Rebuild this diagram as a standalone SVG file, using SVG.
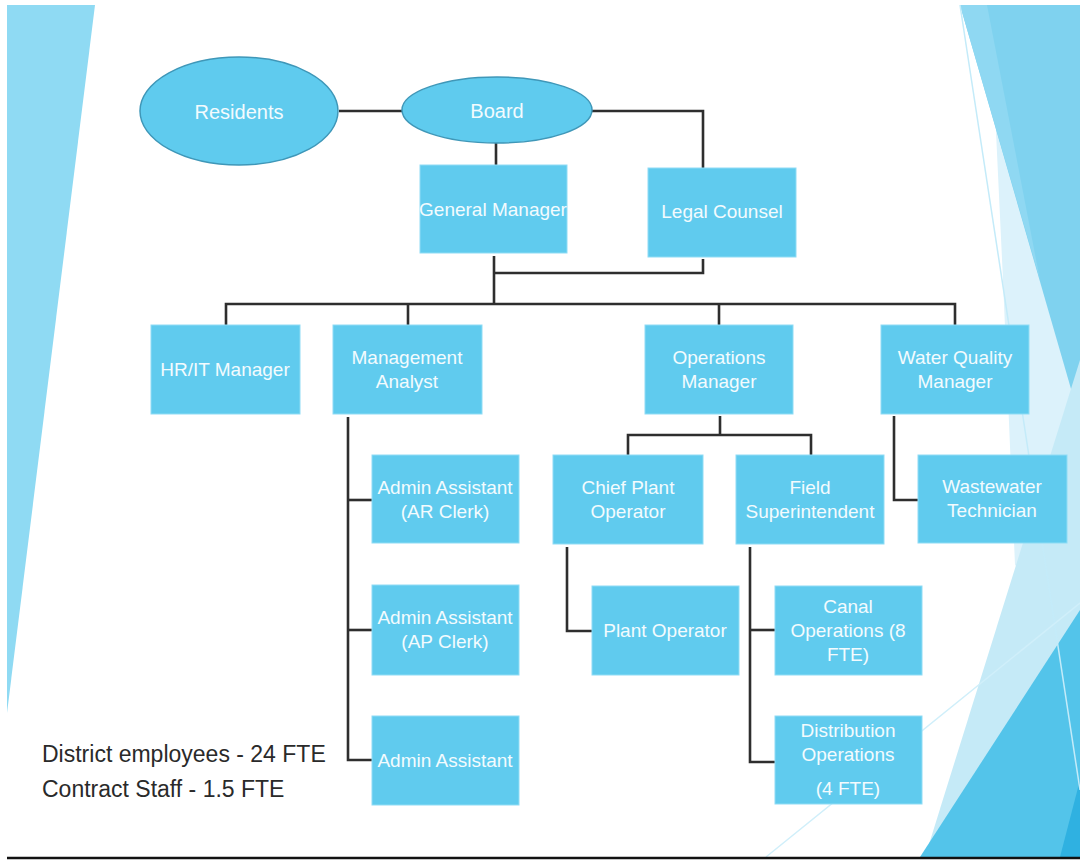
<svg xmlns="http://www.w3.org/2000/svg" width="1080" height="860" viewBox="0 0 1080 860">
<style>
.box{fill:#60cbee;stroke:#8fdcf5;stroke-width:1}
.ell{fill:#5fcbee;stroke:#3f97b8;stroke-width:1.5}
.t{font-family:"Liberation Sans",Arial,sans-serif;font-size:19px;fill:#f3fbfe;text-anchor:middle}
.te{font-size:20px}
.c{fill:none;stroke:#2e2e2e;stroke-width:2.6;stroke-linejoin:miter}
.foot{font-family:"Liberation Sans",Arial,sans-serif;font-size:23px;fill:#2a2a2a}
</style>
<rect width="1080" height="860" fill="#ffffff"/>
<g id="background">
<polygon points="7,5 95,5 7,713" fill="#8fdaf3"/>
<polygon points="990,5 1080,5 1080,620 1015,565 1003,280" fill="#dcf2fb"/>
<polygon points="960,5 1080,5 1080,420" fill="#7fd2ef"/>
<polygon points="960,5 987,5 1040,280" fill="#8fd8f2"/>
<polygon points="1080,360 1080,857 925,857" fill="#c5eaf7"/>
<polygon points="1080,610 1080,857 920,857" fill="#53c4ea"/>
<polygon points="1080,780 1080,857 1060,857" fill="#2fb1e1"/>
<line x1="960" y1="5" x2="1080" y2="790" stroke="#c4ebf9" stroke-width="1.5"/>
<line x1="766" y1="857" x2="1080" y2="603" stroke="#d0effa" stroke-width="1.5"/>
<line x1="7" y1="858" x2="1080" y2="858" stroke="#111" stroke-width="2.5"/>
</g>
<g id="connectors">
<path class="c" d="M339,111 H402"/>
<path class="c" d="M592,111 H703 V168"/>
<path class="c" d="M496,143 V165"/>
<path class="c" d="M494,256 V304"/>
<path class="c" d="M703,259 V273 H494"/>
<path class="c" d="M226,325 V304 H955 V325"/>
<path class="c" d="M408,304 V325"/>
<path class="c" d="M719,304 V325"/>
<path class="c" d="M720,416 V435"/>
<path class="c" d="M628,455 V435 H811 V455"/>
<path class="c" d="M894,416 V500 H918"/>
<path class="c" d="M348,417 V760 H372"/>
<path class="c" d="M348,500 H372"/>
<path class="c" d="M348,630 H372"/>
<path class="c" d="M567,547 V631 H592"/>
<path class="c" d="M750,547 V762 H775"/>
<path class="c" d="M750,630 H775"/>
</g>
<g id="residents"><ellipse class="ell" cx="239" cy="111" rx="99" ry="54"/><text class="t te" x="239" y="119">Residents</text></g>
<g id="board"><ellipse class="ell" cx="497" cy="110" rx="95" ry="33"/><text class="t te" x="497" y="118">Board</text></g>
<g id="general-manager"><rect class="box" x="420" y="165" width="147" height="88"/><text class="t" x="493" y="216">General Manager</text></g>
<g id="legal-counsel"><rect class="box" x="648" y="168" width="148" height="89"/><text class="t" x="722" y="218">Legal Counsel</text></g>
<g id="hr-it-manager"><rect class="box" x="151" y="325" width="149" height="89"/><text class="t" x="225" y="376">HR/IT Manager</text></g>
<g id="management-analyst"><rect class="box" x="333" y="325" width="149" height="89"/><text class="t" x="407" y="364">Management</text><text class="t" x="407" y="388">Analyst</text></g>
<g id="operations-manager"><rect class="box" x="645" y="325" width="148" height="89"/><text class="t" x="719" y="364">Operations</text><text class="t" x="719" y="388">Manager</text></g>
<g id="water-quality-manager"><rect class="box" x="881" y="325" width="148" height="89"/><text class="t" x="955" y="364">Water Quality</text><text class="t" x="955" y="388">Manager</text></g>
<g id="admin-ar"><rect class="box" x="372" y="455" width="147" height="88"/><text class="t" x="445" y="494">Admin Assistant</text><text class="t" x="445" y="518">(AR Clerk)</text></g>
<g id="chief-plant-operator"><rect class="box" x="553" y="455" width="150" height="89"/><text class="t" x="628" y="494">Chief Plant</text><text class="t" x="628" y="518">Operator</text></g>
<g id="field-superintendent"><rect class="box" x="736" y="455" width="148" height="89"/><text class="t" x="810" y="494">Field</text><text class="t" x="810" y="518">Superintendent</text></g>
<g id="wastewater-technician"><rect class="box" x="918" y="455" width="149" height="88"/><text class="t" x="992" y="493">Wastewater</text><text class="t" x="992" y="517">Technician</text></g>
<g id="admin-ap"><rect class="box" x="372" y="585" width="147" height="90"/><text class="t" x="445" y="624">Admin Assistant</text><text class="t" x="445" y="648">(AP Clerk)</text></g>
<g id="plant-operator"><rect class="box" x="592" y="586" width="147" height="89"/><text class="t" x="665" y="637">Plant Operator</text></g>
<g id="canal-operations"><rect class="box" x="775" y="586" width="147" height="89"/><text class="t" x="848" y="613">Canal</text><text class="t" x="848" y="637">Operations (8</text><text class="t" x="848" y="661">FTE)</text></g>
<g id="admin-assistant"><rect class="box" x="372" y="716" width="147" height="89"/><text class="t" x="445" y="767">Admin Assistant</text></g>
<g id="distribution-operations"><rect class="box" x="775" y="716" width="147" height="88"/><text class="t" x="848" y="737">Distribution</text><text class="t" x="848" y="761">Operations</text><text class="t" x="848" y="795">(4 FTE)</text></g>
<g id="footer"><text class="foot" x="42" y="762">District employees - 24 FTE</text><text class="foot" x="42" y="797">Contract Staff - 1.5 FTE</text></g>
</svg>
